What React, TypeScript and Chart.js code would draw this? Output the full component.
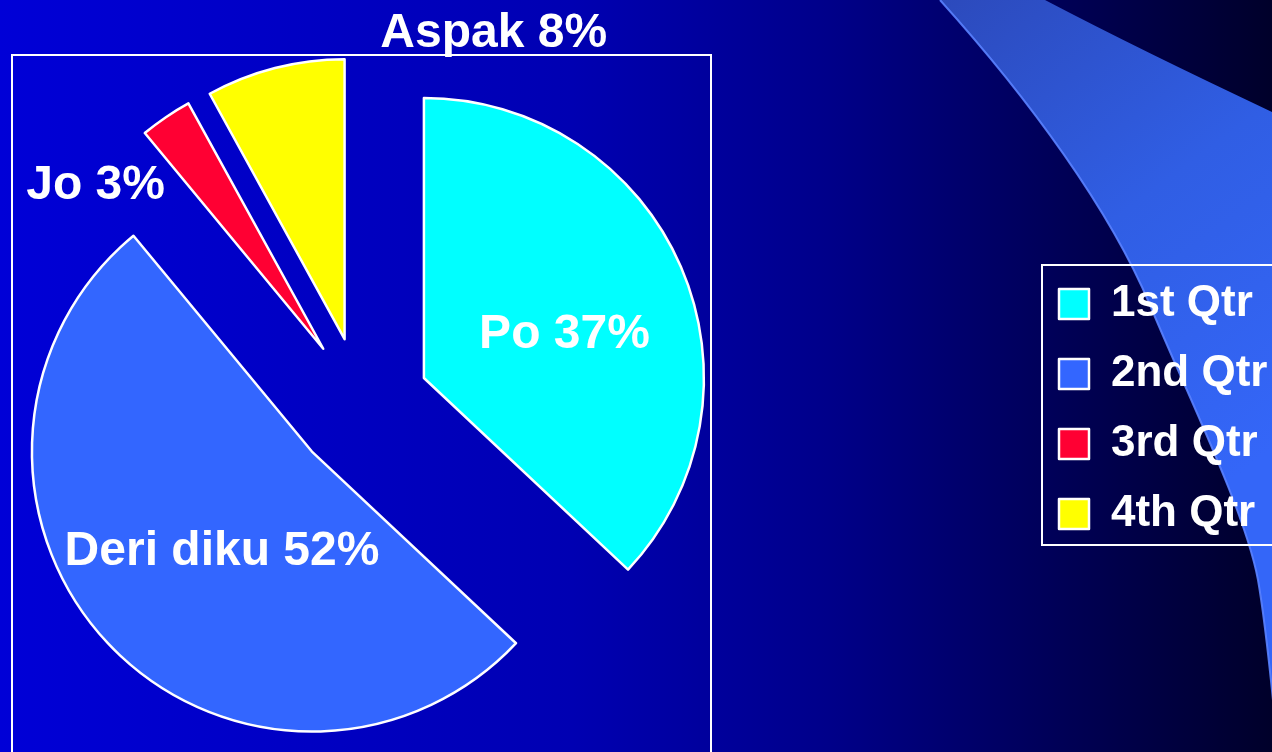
import React, { useEffect, useRef } from 'react';
import { Chart, registerables } from 'chart.js';

Chart.register(...registerables);

// ---- data ----
const LEGEND_LABELS = ['1st Qtr', '2nd Qtr', '3rd Qtr', '4th Qtr'];
const SLICE_NAMES = ['Po', 'Deri diku', 'Jo', 'Aspak'];
const SLICE_VALUES = [37, 52, 3, 8];
const SLICE_COLORS = ['#00FFFF', '#3366FF', '#FF0033', '#FFFF00'];

// ---- label placement: polar offset from each exploded slice's own centre ----
// (degrees clockwise from 12 o'clock, fraction of the pie radius)
const LABEL_ANGLE = [73, 222, 305.6, 26];
const LABEL_DIST = [0.525, 0.48, 1.0, 1.215];

const CANVAS_W = 1272;
const CANVAS_H = 770;
const RADIUS = 280;
const EXPLODE = 68;
const FONT_FAMILY = '"Liberation Sans", Arial, Helvetica, sans-serif';

const backgroundPlugin = {
  id: 'slideBackground',
  beforeDraw(chart: any) {
    const { ctx, width, height } = chart;
    ctx.save();
    const g = ctx.createLinearGradient(0, 0, width, 0);
    g.addColorStop(0, 'rgb(0,0,215)');
    g.addColorStop(0.45, 'rgb(0,0,178)');
    g.addColorStop(0.65, 'rgb(0,0,138)');
    g.addColorStop(0.82, 'rgb(0,0,90)');
    g.addColorStop(1, 'rgb(0,0,42)');
    ctx.fillStyle = g;
    ctx.fillRect(0, 0, width, height);

    // decorative swoosh on the right
    ctx.beginPath();
    ctx.moveTo(940, 0);
    ctx.bezierCurveTo(1030, 100, 1110, 210, 1150, 305);
    ctx.bezierCurveTo(1185, 390, 1245, 510, 1258, 580);
    ctx.bezierCurveTo(1265, 620, 1270, 670, 1274, 710);
    ctx.lineTo(1300, 710);
    ctx.lineTo(1300, 125);
    ctx.quadraticCurveTo(1150, 55, 1045, 0);
    ctx.closePath();
    const sg = ctx.createLinearGradient(940, 0, 1272, 450);
    sg.addColorStop(0, 'rgb(44,74,188)');
    sg.addColorStop(0.5, 'rgb(48,94,228)');
    sg.addColorStop(1, 'rgb(52,102,248)');
    ctx.fillStyle = sg;
    ctx.fill();

    ctx.beginPath();
    ctx.moveTo(940, 0);
    ctx.bezierCurveTo(1030, 100, 1110, 210, 1150, 305);
    ctx.bezierCurveTo(1185, 390, 1245, 510, 1258, 580);
    ctx.bezierCurveTo(1265, 620, 1270, 670, 1274, 710);
    ctx.strokeStyle = 'rgba(90,130,255,0.9)';
    ctx.lineWidth = 2;
    ctx.stroke();
    ctx.restore();
  },
};

const explodePlugin = {
  id: 'explodeSlices',
  afterDatasetsUpdate(chart: any) {
    const meta = chart.getDatasetMeta(0);
    meta.data.forEach((arc: any) => {
      const mid = (arc.startAngle + arc.endAngle) / 2;
      arc.x += Math.cos(mid) * EXPLODE;
      arc.y += Math.sin(mid) * EXPLODE;
    });
  },
};

const framePlugin = {
  id: 'plotFrame',
  beforeDatasetsDraw(chart: any) {
    const { ctx, chartArea } = chart;
    ctx.save();
    ctx.strokeStyle = '#FFFFFF';
    ctx.lineWidth = 2;
    ctx.strokeRect(chartArea.left, chartArea.top, chartArea.right - chartArea.left, chartArea.bottom - chartArea.top);
    ctx.restore();
  },
};

const sliceLabelPlugin = {
  id: 'sliceLabels',
  afterDatasetsDraw(chart: any) {
    const { ctx } = chart;
    const meta = chart.getDatasetMeta(0);
    ctx.save();
    ctx.fillStyle = '#FFFFFF';
    ctx.font = `bold 48px ${FONT_FAMILY}`;
    ctx.textAlign = 'center';
    ctx.textBaseline = 'middle';
    meta.data.forEach((arc: any, i: number) => {
      const a = ((LABEL_ANGLE[i] - 90) * Math.PI) / 180;
      const r = arc.outerRadius * LABEL_DIST[i];
      const x = arc.x + Math.cos(a) * r;
      const y = arc.y + Math.sin(a) * r;
      ctx.fillText(`${SLICE_NAMES[i]} ${SLICE_VALUES[i]}%`, x, y);
    });
    ctx.restore();
  },
};

const legendPlacePlugin = {
  id: 'legendPlace',
  afterLayout(chart: any) {
    const lg = chart.legend;
    if (!lg) return;
    const w = lg.width;
    const h = lg.height;
    lg.left = 1033;
    lg.right = 1033 + w;
    lg.top = 256;
    lg.bottom = 256 + h;
  },
  afterDraw(chart: any) {
    const lg = chart.legend;
    if (!lg) return;
    const { ctx } = chart;
    ctx.save();
    ctx.strokeStyle = '#FFFFFF';
    ctx.lineWidth = 2;
    ctx.strokeRect(lg.left + 9, lg.top + 9, 320, 280);
    ctx.restore();
  },
};

export default function App() {
  const canvasRef = useRef<HTMLCanvasElement | null>(null);

  useEffect(() => {
    document.body.style.margin = '0';
    document.body.style.overflow = 'hidden';
    const canvas = canvasRef.current;
    if (!canvas) return;
    const chart = new Chart(canvas, {
      type: 'pie',
      data: {
        labels: LEGEND_LABELS,
        datasets: [
          {
            data: SLICE_VALUES,
            backgroundColor: SLICE_COLORS,
            borderColor: '#FFFFFF',
            borderWidth: 2.5,
            borderJoinStyle: 'round',
            offset: 0,
          } as any,
        ],
      },
      options: {
        responsive: false,
        animation: false,
        events: [],
        radius: RADIUS,
        layout: {
          padding: { left: 12, top: 55, right: CANVAS_W - 711, bottom: CANVAS_H - 755 },
        },
        plugins: {
          tooltip: { enabled: false },
          legend: {
            display: true,
            position: 'chartArea',
            align: 'start',
            labels: {
              color: '#FFFFFF',
              boxWidth: 30,
              boxHeight: 30,
              padding: 26,
              font: { family: FONT_FAMILY, size: 44, weight: 'bold' },
            },
          },
        },
      } as any,
      plugins: [backgroundPlugin, explodePlugin, framePlugin, sliceLabelPlugin, legendPlacePlugin],
    });
    return () => chart.destroy();
  }, []);

  return (
    <div style={{ width: CANVAS_W, height: 752, overflow: 'hidden', position: 'relative' }}>
      <canvas ref={canvasRef} width={CANVAS_W} height={CANVAS_H} style={{ display: 'block' }} />
    </div>
  );
}
